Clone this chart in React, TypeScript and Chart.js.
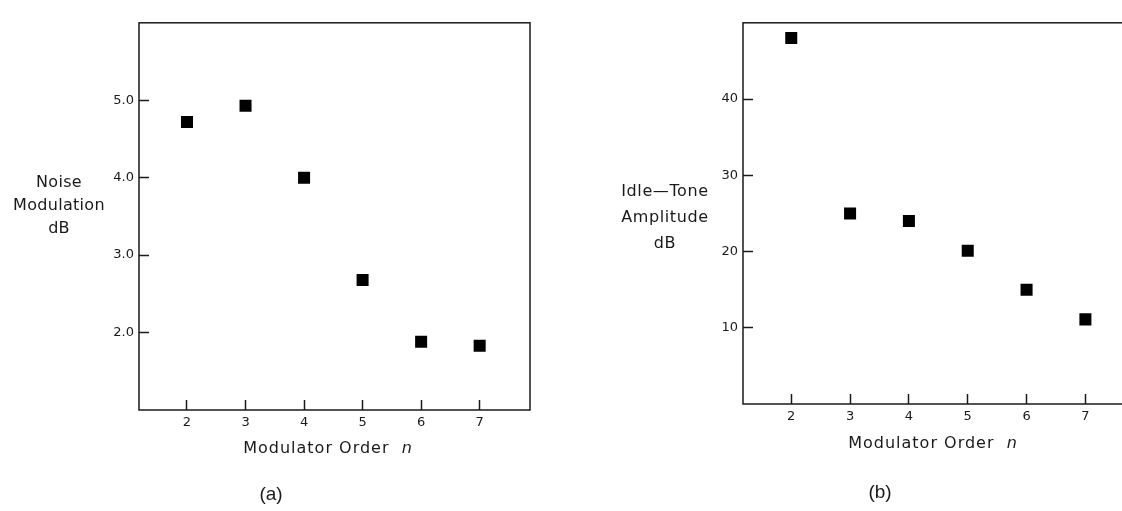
import React, { useEffect, useRef } from "react";
import { Chart, registerables } from "chart.js";

Chart.register(...registerables);

// ---- data ----
const modulatorOrders = [2, 3, 4, 5, 6, 7];
const noiseModulationDb = [4.72, 4.93, 4.0, 2.68, 1.88, 1.83];
const idleToneAmplitudeDb = [48.0, 25.0, 24.0, 20.1, 15.0, 11.1];
const xTickValues = [2, 3, 4, 5, 6, 7];
const yTicksNoise = [2, 3, 4, 5];
const yTicksIdle = [10, 20, 30, 40];

const FONT = "'DejaVu Sans', 'Liberation Sans', sans-serif";
const INK = "#1a1a1a";

const boxPlugin = {
  id: "boxFrame",
  afterDraw(chart: any) {
    const { ctx, chartArea: a } = chart;
    ctx.save();
    ctx.strokeStyle = INK;
    ctx.lineWidth = 1.5;
    ctx.strokeRect(a.left, a.top, a.right - a.left, a.bottom - a.top);
    ctx.restore();
  },
};

type PanelProps = {
  left: number;
  width: number;
  values: number[];
  yMin: number;
  yMax: number;
  yTicks: number[];
  yFmt: (v: number) => string;
  yAxisWidth: number;
  padTop: number;
  padRight: number;
  padBottom: number;
};

function Panel(p: PanelProps) {
  const ref = useRef<HTMLCanvasElement | null>(null);
  useEffect(() => {
    if (!ref.current) return;
    const chart = new Chart(ref.current, {
      type: "scatter",
      data: {
        datasets: [
          {
            data: modulatorOrders.map((x, i) => ({ x, y: p.values[i] })),
            pointStyle: "rect",
            pointRadius: 8.5,
            pointBackgroundColor: "#000",
            pointBorderWidth: 0,
            showLine: false,
          },
        ],
      },
      options: {
        responsive: false,
        animation: false,
        layout: { padding: { left: 0, top: p.padTop, right: p.padRight, bottom: p.padBottom } },
        plugins: { legend: { display: false }, tooltip: { enabled: false } },
        scales: {
          x: {
            type: "linear",
            min: 1.18,
            max: 7.86,
            afterBuildTicks: (s: any) => {
              s.ticks = xTickValues.map((v) => ({ value: v }));
            },
            afterFit: (s: any) => {
              s.height = 40;
            },
            grid: {
              display: true,
              drawOnChartArea: false,
              drawTicks: true,
              tickLength: -10,
              tickWidth: 1.5,
              tickColor: INK,
            },
            border: { display: false },
            ticks: {
              padding: 15,
              color: INK,
              font: { family: FONT, size: 13 },
              callback: (v: any) => String(v),
            },
          },
          y: {
            type: "linear",
            min: p.yMin,
            max: p.yMax,
            afterBuildTicks: (s: any) => {
              s.ticks = p.yTicks.map((v) => ({ value: v }));
            },
            afterFit: (s: any) => {
              s.width = p.yAxisWidth;
            },
            grid: {
              display: true,
              drawOnChartArea: false,
              drawTicks: true,
              tickLength: -10,
              tickWidth: 1.5,
              tickColor: INK,
            },
            border: { display: false },
            ticks: {
              padding: 15,
              color: INK,
              font: { family: FONT, size: 13 },
              callback: (v: any) => p.yFmt(Number(v)),
            },
          },
        },
      },
      plugins: [boxPlugin],
    } as any);
    return () => chart.destroy();
  }, []);
  return (
    <canvas
      ref={ref}
      width={p.width}
      height={511}
      style={{ position: "absolute", left: p.left, top: 0, width: p.width, height: 511 }}
    />
  );
}

function Label(props: { x: number; y: number; lh: number; size: number; lines: React.ReactNode[]; family?: string; ls?: number }) {
  return (
    <div
      style={{
        position: "absolute",
        left: props.x,
        top: props.y,
        transform: "translate(-50%, -50%)",
        textAlign: "center",
        whiteSpace: "nowrap",
        fontFamily: props.family || FONT,
        fontSize: props.size,
        lineHeight: props.lh + "px",
        letterSpacing: (props.ls ?? 0) + "px",
        color: INK,
      }}
    >
      {props.lines.map((l, i) => (
        <div key={i}>{l}</div>
      ))}
    </div>
  );
}

const xTitle = (
  <span>
    Modulator Order{"\u00a0\u00a0"}
    <i>n</i>
  </span>
);

export default function App() {
  return (
    <div
      style={{
        position: "fixed",
        left: 0,
        top: 0,
        width: 1122,
        height: 511,
        overflow: "hidden",
        background: "#fff",
      }}
    >
      <Panel
        left={0}
        width={561}
        values={noiseModulationDb}
        yMin={1}
        yMax={6}
        yTicks={yTicksNoise}
        yFmt={(v) => v.toFixed(1)}
        yAxisWidth={139}
        padTop={17}
        padRight={31}
        padBottom={61}
      />
      <Panel
        left={561}
        width={600}
        values={idleToneAmplitudeDb}
        yMin={0}
        yMax={50}
        yTicks={yTicksIdle}
        yFmt={(v) => String(Math.round(v))}
        yAxisWidth={182}
        padTop={13}
        padRight={25}
        padBottom={67}
      />
      <Label x={59} y={204} lh={23} size={16} ls={0.3} lines={["Noise", "Modulation", "dB"]} />
      <Label x={665} y={217} lh={26} size={16} ls={0.6} lines={["Idle\u2014Tone", "Amplitude", "dB"]} />
      <Label x={328} y={448} lh={20} size={16} ls={1} lines={[xTitle]} />
      <Label x={933} y={443} lh={20} size={16} ls={1} lines={[xTitle]} />
      <Label x={271} y={494} lh={22} size={19} family="'Liberation Sans', Arial, sans-serif" lines={["(a)"]} />
      <Label x={880} y={492} lh={22} size={19} family="'Liberation Sans', Arial, sans-serif" lines={["(b)"]} />
    </div>
  );
}
